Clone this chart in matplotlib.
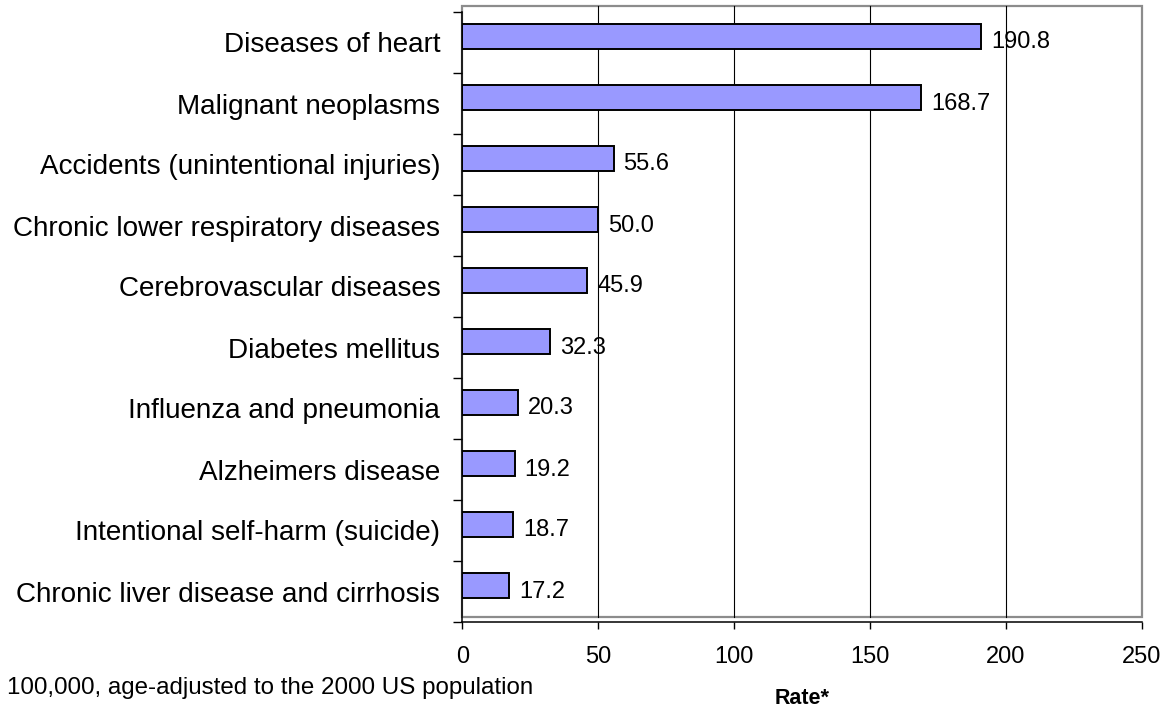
import matplotlib
matplotlib.use("Agg")
import matplotlib.pyplot as plt
from matplotlib.patches import Rectangle
import numpy as np

plt.rcParams['font.family'] = ['Liberation Sans', 'DejaVu Sans']

categories = [
    "Diseases of heart",
    "Malignant neoplasms",
    "Accidents (unintentional injuries)",
    "Chronic lower respiratory diseases",
    "Cerebrovascular diseases",
    "Diabetes mellitus",
    "Influenza and pneumonia",
    "Alzheimers disease",
    "Intentional self-harm (suicide)",
    "Chronic liver disease and cirrhosis",
]
rates = [190.8, 168.7, 55.6, 50.0, 45.9, 32.3, 20.3, 19.2, 18.7, 17.2]
x_ticks = [0, 50, 100, 150, 200, 250]
x_label = "Rate*"
footnote = "100,000, age-adjusted to the 2000 US population"

W, H = 1165, 711
fig = plt.figure(figsize=(W / 100, H / 100), dpi=100)
left, right, top, bottom = 462.5, 1141.7, 12, 622
ax = fig.add_axes([left / W, (H - bottom) / H, (right - left) / W, (bottom - top) / H])

n = len(categories)
pos = np.arange(n)
ax.set_ylim(n - 0.5, -0.5)
ax.set_xlim(0, 250)

# plot-area border (grey)
y_lo = (bottom - 617) / (bottom - top)
y_hi = (bottom - 6) / (bottom - top)
ax.add_patch(Rectangle((0, y_lo), 1, y_hi - y_lo, transform=ax.transAxes,
                       fill=False, edgecolor='#8c8c8c', lw=1.6, clip_on=False, zorder=1))

for xv in x_ticks[1:-1]:
    ax.axvline(xv, ymin=y_lo, ymax=y_hi, color='black', lw=0.8, clip_on=False, zorder=1)

ax.barh(pos - 0.1, rates, height=0.4, color='#9999FF', edgecolor='black', lw=1.4, zorder=3)

for p, v in zip(pos, rates):
    ax.annotate(f"{v:.1f}", xy=(v, p), xytext=(7.2, 0), textcoords='offset points',
                ha='left', va='center', fontsize=17, zorder=4)

for s in ['top', 'right']:
    ax.spines[s].set_visible(False)
for s in ['left', 'bottom']:
    ax.spines[s].set_color('black')
    ax.spines[s].set_linewidth(1.1)
    ax.spines[s].set_zorder(5)

ax.set_yticks(np.arange(n + 1) - 0.5)
ax.set_yticklabels([])
ax.set_yticks(pos, minor=True)
ax.set_yticklabels(categories, minor=True, fontsize=20.1)
ax.tick_params(axis='y', which='major', length=6.5, width=1.0, direction='out')
ax.tick_params(axis='y', which='minor', length=0, pad=16)

ax.set_xticks(x_ticks)
ax.set_xticklabels([str(t) for t in x_ticks], fontsize=17)
ax.tick_params(axis='x', length=5, width=1.0, direction='out', pad=12)

fig.text(802 / W, 1 - 698 / H, x_label, ha='center', va='center', fontsize=15.5, fontweight='bold')
fig.text(7 / W, 1 - 688 / H, footnote, ha='left', va='center', fontsize=17.4)

fig.savefig("out.png", dpi=100)
